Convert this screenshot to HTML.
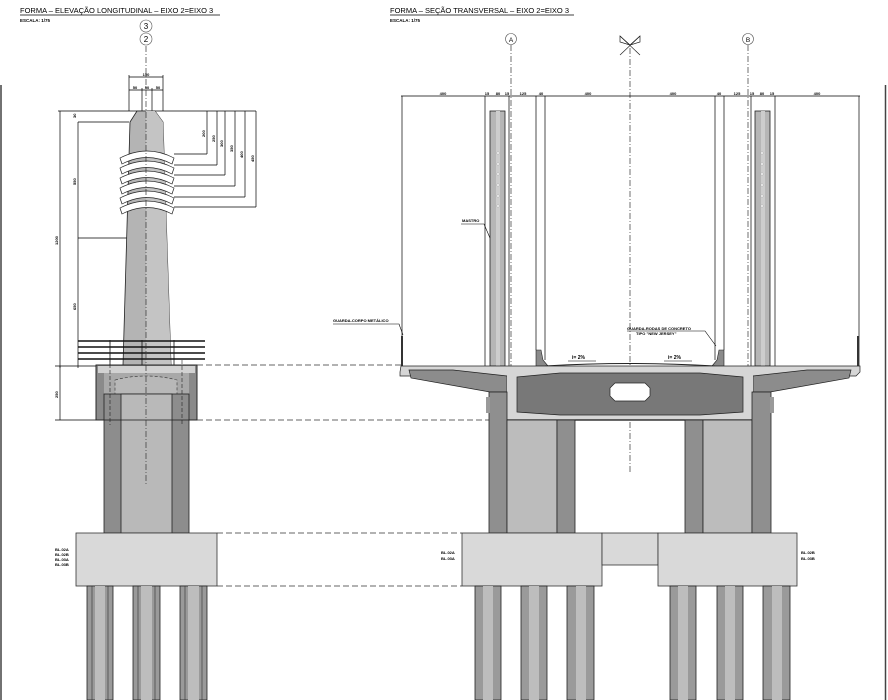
<!DOCTYPE html>
<html><head><meta charset="utf-8"><style>
html,body{margin:0;padding:0;background:#fff}
svg{display:block}
text{font-family:"Liberation Sans",sans-serif;fill:#000}
</style></head><body>
<svg width="888" height="700" viewBox="0 0 888 700" xmlns="http://www.w3.org/2000/svg">
<rect width="888" height="700" fill="#fff"/>
<!-- borders -->
<line x1="1" y1="85" x2="1" y2="700" stroke="#444" stroke-width="1.5"/>
<line x1="885.5" y1="85" x2="885.5" y2="700" stroke="#444" stroke-width="1.5"/>

<!-- titles -->
<text x="20" y="13" font-size="7.5">FORMA – ELEVAÇÃO LONGITUDINAL – EIXO 2=EIXO 3</text>
<line x1="20" y1="15" x2="220" y2="15" stroke="#000" stroke-width="0.7"/>
<text x="20" y="22" font-size="4.5" font-weight="bold">ESCALA: 1/75</text>
<text x="390" y="13" font-size="7.5">FORMA – SEÇÃO TRANSVERSAL – EIXO 2=EIXO 3</text>
<line x1="390" y1="15" x2="574" y2="15" stroke="#000" stroke-width="0.7"/>
<text x="390" y="22" font-size="4.5" font-weight="bold">ESCALA: 1/75</text>

<!-- ===== LEFT VIEW ===== -->
<circle cx="146" cy="26" r="6" fill="#fff" stroke="#555" stroke-width="0.6"/>
<text x="146" y="29" font-size="8" text-anchor="middle">3</text>
<circle cx="146" cy="39" r="6" fill="#fff" stroke="#555" stroke-width="0.6"/>
<text x="146" y="42" font-size="8" text-anchor="middle">2</text>

<!-- dims top -->
<g stroke="#000" stroke-width="0.7" fill="none">
<line x1="129" y1="77" x2="163" y2="77"/>
<line x1="129" y1="90" x2="163" y2="90"/>
<line x1="129" y1="75" x2="129" y2="111"/><line x1="163" y1="75" x2="163" y2="111"/>
<line x1="142" y1="88" x2="142" y2="111"/><line x1="152" y1="88" x2="152" y2="111"/>
<line x1="58" y1="111" x2="256" y2="111"/>
<line x1="60" y1="111" x2="60" y2="368"/>
<line x1="78" y1="122" x2="78" y2="368"/>
<line x1="78" y1="122" x2="129" y2="122"/>
<line x1="78" y1="238" x2="129" y2="238"/>
<line x1="55" y1="366" x2="96" y2="366"/>
<line x1="55" y1="420" x2="96" y2="420"/>
<line x1="60" y1="366" x2="60" y2="420"/>
<line x1="207" y1="111" x2="207" y2="154"/><line x1="174" y1="154" x2="207" y2="154"/>
<line x1="217" y1="111" x2="217" y2="165"/><line x1="174" y1="165" x2="217" y2="165"/>
<line x1="225" y1="111" x2="225" y2="175"/><line x1="174" y1="175" x2="225" y2="175"/>
<line x1="235" y1="111" x2="235" y2="186"/><line x1="174" y1="186" x2="235" y2="186"/>
<line x1="245" y1="111" x2="245" y2="197"/><line x1="174" y1="197" x2="245" y2="197"/>
<line x1="256" y1="111" x2="256" y2="207"/><line x1="174" y1="207" x2="256" y2="207"/>
</g>
<g font-size="4" font-weight="bold">
<text x="146" y="76" text-anchor="middle">150</text>
<text x="135" y="89" text-anchor="middle">50</text><text x="147" y="89" text-anchor="middle">50</text><text x="158" y="89" text-anchor="middle">50</text>
<text x="146" y="440" text-anchor="middle">200</text>
</g>
<g font-size="4" font-weight="bold">
<text transform="translate(76,118) rotate(-90)">30</text>
<text transform="translate(76,185) rotate(-90)">550</text>
<text transform="translate(58,245) rotate(-90)">1200</text>
<text transform="translate(76,310) rotate(-90)">650</text>
<text transform="translate(58,398) rotate(-90)">250</text>
<text transform="translate(205,137) rotate(-90)">200</text>
<text transform="translate(215,142) rotate(-90)">250</text>
<text transform="translate(223,147) rotate(-90)">300</text>
<text transform="translate(233,152) rotate(-90)">350</text>
<text transform="translate(243,158) rotate(-90)">400</text>
<text transform="translate(254,162) rotate(-90)">450</text>
</g>
<line x1="131" y1="440" x2="172" y2="440" stroke="#000" stroke-width="0.6"/>

<!-- mast -->
<polygon points="137,111 155,111 163,122 171,365 123,365 130,122" fill="#b4b4b4" stroke="#222" stroke-width="0.8"/>
<polygon points="146,111 155,111 163,122 171,365 146,365" fill="#c4c4c4"/>
<!-- arches -->
<g fill="#fff" stroke="#222" stroke-width="0.7">
<path d="M120,158 Q147,144 174,158 L172,164 Q147,151 122,164 Z"/>
<path d="M120,168 Q147,154 174,168 L172,174 Q147,161 122,174 Z"/>
<path d="M120,178 Q147,164 174,178 L172,184 Q147,171 122,184 Z"/>
<path d="M120,188 Q147,174 174,188 L172,194 Q147,181 122,194 Z"/>
<path d="M120,198 Q147,184 174,198 L172,204 Q147,191 122,204 Z"/>
<path d="M120,208 Q147,194 174,208 L172,214 Q147,201 122,214 Z"/>
</g>
<!-- hatch lines -->
<g stroke="#111" stroke-width="1.4">
<line x1="78" y1="341" x2="205" y2="341"/>
<line x1="78" y1="347" x2="205" y2="347"/>
<line x1="78" y1="353" x2="205" y2="353"/>
<line x1="78" y1="359" x2="205" y2="359"/>
</g>
<g stroke="#111" stroke-width="0.8">
<line x1="110" y1="340" x2="110" y2="365"/><line x1="142" y1="340" x2="142" y2="365"/><line x1="174" y1="340" x2="174" y2="365"/>
</g>
<!-- capital -->
<rect x="96" y="365" width="101" height="55" fill="#8a8a8a" stroke="#222" stroke-width="0.8"/>
<rect x="98" y="366" width="97" height="7" fill="#d2d2d2"/>
<polygon points="104,373 189,373 189,394 104,394" fill="#a9a9a9"/>
<path d="M115,380 Q146,372 177,380 L177,410 Q146,420 115,410 Z" fill="#b8b8b8" stroke="#333" stroke-width="0.6" stroke-dasharray="3,2"/>
<!-- column -->
<rect x="104" y="394" width="85" height="139" fill="#8d8d8d" stroke="#222" stroke-width="0.8"/>
<rect x="121" y="394" width="51" height="139" fill="#b9b9b9" stroke="#222" stroke-width="0.8"/>
<rect x="96" y="365" width="101" height="55" fill="none" stroke="#222" stroke-width="0.8"/>
<g stroke="#222" stroke-width="0.6" stroke-dasharray="4,2">
<line x1="110" y1="340" x2="110" y2="425"/><line x1="182" y1="360" x2="182" y2="425"/>
</g>
<!-- axis -->
<line x1="146" y1="46" x2="146" y2="485" stroke="#333" stroke-width="0.7" stroke-dasharray="6,2,1,2"/>
<!-- pile cap -->
<rect x="76" y="533" width="141" height="53" fill="#d9d9d9" stroke="#333" stroke-width="0.8"/>
<g font-size="4" font-weight="bold">
<text x="55" y="551">BL.02A</text><text x="55" y="556">BL.02B</text><text x="55" y="561">BL.03A</text><text x="55" y="566">BL.03B</text>
</g>
<!-- piles left -->
<g stroke="#222" stroke-width="0.8">
<rect x="87" y="586" width="26" height="114" fill="#9a9a9a"/>
<rect x="133" y="586" width="27" height="114" fill="#9a9a9a"/>
<rect x="180" y="586" width="27" height="114" fill="#9a9a9a"/>
</g>
<g stroke="#333" stroke-width="0.6">
<line x1="92" y1="586" x2="92" y2="700"/><line x1="108" y1="586" x2="108" y2="700"/>
<line x1="138" y1="586" x2="138" y2="700"/><line x1="155" y1="586" x2="155" y2="700"/>
<line x1="185" y1="586" x2="185" y2="700"/><line x1="202" y1="586" x2="202" y2="700"/>
</g>
<rect x="95" y="586" width="10" height="114" fill="#bdbdbd"/>
<rect x="141" y="586" width="11" height="114" fill="#bdbdbd"/>
<rect x="188" y="586" width="11" height="114" fill="#bdbdbd"/>

<!-- connecting dashed lines -->
<g stroke="#333" stroke-width="0.8" stroke-dasharray="6,3">
<line x1="197" y1="365" x2="402" y2="365"/>
<line x1="197" y1="420" x2="490" y2="420"/>
<line x1="217" y1="533" x2="462" y2="533"/>
<line x1="217" y1="586" x2="462" y2="586"/>
</g>

<!-- ===== RIGHT VIEW ===== -->
<circle cx="511" cy="39" r="5.5" fill="#fff" stroke="#555" stroke-width="0.6"/>
<text x="511" y="42" font-size="6.5" text-anchor="middle">A</text>
<circle cx="748" cy="39" r="5.5" fill="#fff" stroke="#555" stroke-width="0.6"/>
<text x="748" y="42" font-size="6.5" text-anchor="middle">B</text>
<g stroke="#222" stroke-width="0.7" fill="none">
<line x1="620" y1="36" x2="640" y2="55"/><line x1="640" y1="36" x2="620" y2="55"/>
<polygon points="620,36 630,45 620,42"/><polygon points="640,36 630,45 640,42"/>
</g>
<g stroke="#333" stroke-width="0.7" stroke-dasharray="6,2,1,2">
<line x1="511" y1="45" x2="511" y2="483"/>
<line x1="748" y1="45" x2="748" y2="483"/>
<line x1="630" y1="48" x2="630" y2="472"/>
</g>
<!-- top dims -->
<g stroke="#000" stroke-width="0.7" fill="none">
<line x1="401" y1="96" x2="860" y2="96"/>
<line x1="402" y1="96" x2="402" y2="366"/>
<line x1="859" y1="96" x2="859" y2="366"/>
<line x1="485" y1="96" x2="485" y2="366"/><line x1="509" y1="96" x2="509" y2="366"/>
<line x1="536" y1="96" x2="536" y2="350"/><line x1="545" y1="96" x2="545" y2="360"/>
<line x1="715" y1="96" x2="715" y2="360"/><line x1="724" y1="96" x2="724" y2="350"/>
<line x1="751" y1="96" x2="751" y2="366"/><line x1="775" y1="96" x2="775" y2="366"/>
</g>
<g font-size="4" font-weight="bold" text-anchor="middle">
<text x="443" y="95">400</text><text x="487" y="95">15</text><text x="498" y="95">80</text><text x="507" y="95">15</text>
<text x="523" y="95">125</text><text x="541" y="95">40</text><text x="588" y="95">400</text>
<text x="673" y="95">400</text><text x="719" y="95">40</text><text x="737" y="95">125</text>
<text x="752" y="95">15</text><text x="762" y="95">80</text><text x="772" y="95">15</text><text x="817" y="95">400</text>
</g>
<!-- masts -->
<rect x="490" y="111" width="15" height="255" fill="#b6b6b6" stroke="#222" stroke-width="0.8"/>
<rect x="755" y="111" width="15" height="255" fill="#b6b6b6" stroke="#222" stroke-width="0.8"/>
<rect x="496" y="111" width="4" height="255" fill="#cdcdcd"/>
<rect x="761" y="111" width="4" height="255" fill="#cdcdcd"/>
<g fill="#fff" stroke="#999" stroke-width="0.4">
<circle cx="498" cy="153" r="1.2"/><circle cx="498" cy="164" r="1.2"/><circle cx="498" cy="174" r="1.2"/><circle cx="498" cy="185" r="1.2"/><circle cx="498" cy="196" r="1.2"/><circle cx="498" cy="206" r="1.2"/>
<circle cx="762" cy="153" r="1.2"/><circle cx="762" cy="164" r="1.2"/><circle cx="762" cy="174" r="1.2"/><circle cx="762" cy="185" r="1.2"/><circle cx="762" cy="196" r="1.2"/><circle cx="762" cy="206" r="1.2"/>
</g>
<!-- labels -->
<g font-size="4" font-weight="bold">
<text x="462" y="222">MASTRO</text>
<text x="333" y="322">GUARDA-CORPO METÁLICO</text>
<text x="627" y="330">GUARDA-RODAS DE CONCRETO</text>
<text x="636" y="335">TIPO "NEW JERSEY"</text>
<text x="572" y="359" font-size="5">i= 2%</text>
<text x="668" y="359" font-size="5">i= 2%</text>
</g>
<g stroke="#000" stroke-width="0.6" fill="none">
<polyline points="461,224 484,224 490,238"/>
<polyline points="333,324 399,324 403,335"/>
<polyline points="627,331 705,331 716,346"/>
<line x1="568" y1="361" x2="596" y2="361"/><line x1="664" y1="361" x2="692" y2="361"/>
</g>
<!-- barriers -->
<polygon points="536,350 541,350 543,360 548,366 536,366" fill="#8a8a8a" stroke="#222" stroke-width="0.6"/>
<polygon points="724,350 719,350 717,360 712,366 724,366" fill="#8a8a8a" stroke="#222" stroke-width="0.6"/>
<rect x="401" y="336" width="2" height="30" fill="#333"/>
<rect x="857" y="336" width="2" height="30" fill="#333"/>
<!-- deck -->
<path d="M545,366 Q630,361 715,366" fill="none" stroke="#222" stroke-width="1"/>
<polygon points="401,366 860,366 860,372 856,376 400,376 400,372" fill="#d6d6d6" stroke="#222" stroke-width="0.7"/>
<polygon points="409,370 453,370 507,376 507,392 490,392 411,378" fill="#8c8c8c" stroke="#222" stroke-width="0.7"/>
<polygon points="851,370 807,370 753,376 753,392 770,392 849,378" fill="#8c8c8c" stroke="#222" stroke-width="0.7"/>
<rect x="507" y="370" width="246" height="50" fill="#d6d6d6"/>
<polygon points="517,377 560,373 700,373 743,377 743,412 700,415 560,415 517,412" fill="#787878" stroke="#222" stroke-width="0.7"/>
<polygon points="615,383 645,383 650,388 650,396 645,401 615,401 610,396 610,388" fill="#fff" stroke="#222" stroke-width="0.7"/>
<line x1="507" y1="420" x2="753" y2="420" stroke="#111" stroke-width="1.2"/>
<!-- columns -->
<g stroke="#222" stroke-width="0.8">
<rect x="489" y="392" width="18" height="141" fill="#8f8f8f"/>
<rect x="507" y="420" width="50" height="113" fill="#bcbcbc"/>
<rect x="557" y="420" width="18" height="113" fill="#8f8f8f"/>
<rect x="685" y="420" width="18" height="113" fill="#8f8f8f"/>
<rect x="703" y="420" width="49" height="113" fill="#bcbcbc"/>
<rect x="752" y="392" width="19" height="141" fill="#8f8f8f"/>
</g>
<rect x="486" y="397" width="4" height="16" fill="#9a9a9a"/>
<rect x="770" y="397" width="4" height="16" fill="#9a9a9a"/>
<!-- pile caps -->
<g stroke="#333" stroke-width="0.8">
<rect x="462" y="533" width="140" height="53" fill="#d9d9d9"/>
<rect x="602" y="533" width="56" height="32" fill="#d9d9d9"/>
<rect x="658" y="533" width="139" height="53" fill="#d9d9d9"/>
</g>
<g font-size="4" font-weight="bold">
<text x="441" y="554">BL.02A</text><text x="441" y="560">BL.03A</text>
<text x="801" y="554">BL.02B</text><text x="801" y="560">BL.03B</text>
</g>
<!-- piles right -->
<g stroke="#222" stroke-width="0.8" fill="#9a9a9a">
<rect x="475" y="586" width="26" height="114"/><rect x="521" y="586" width="26" height="114"/><rect x="567" y="586" width="27" height="114"/>
<rect x="670" y="586" width="26" height="114"/><rect x="717" y="586" width="26" height="114"/><rect x="763" y="586" width="27" height="114"/>
</g>
<g fill="#bdbdbd">
<rect x="483" y="586" width="10" height="114"/><rect x="529" y="586" width="10" height="114"/><rect x="576" y="586" width="10" height="114"/>
<rect x="678" y="586" width="10" height="114"/><rect x="725" y="586" width="10" height="114"/><rect x="772" y="586" width="10" height="114"/>
</g>
</svg>
</body></html>
